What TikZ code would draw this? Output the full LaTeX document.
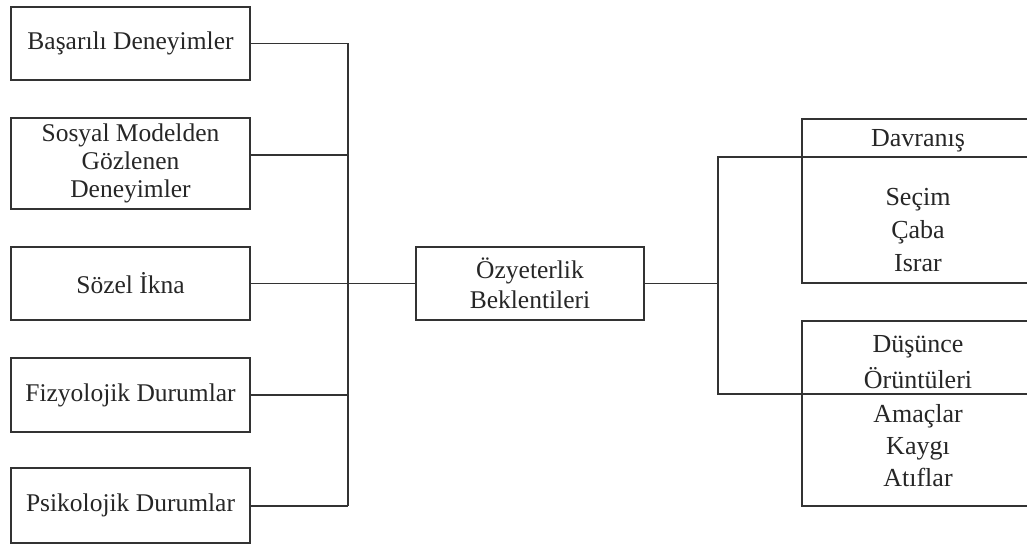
\documentclass[tikz,border=0pt]{standalone}
\usepackage{fontspec}
\setmainfont{Liberation Serif}
\begin{document}
\begin{tikzpicture}[x=1pt,y=-1pt,
  box/.style={draw=black!80, line width=1.7pt, rectangle, inner sep=0pt, align=center,
    text=black!85, font=\fontsize{25.5}{28}\selectfont},
  lbl/.style={anchor=base, inner sep=0pt, text=black!85, font=\fontsize{26}{30}\selectfont},
  conn/.style={draw=black!80, line width=1.6pt}]
\useasboundingbox (0,0) rectangle (1027,548);
\clip (0,0) rectangle (1027,548);
% left boxes
\node[box, minimum width=239pt, minimum height=73pt] (b1) at (130.5,43.5) {Başarılı Deneyimler};
\node[box, minimum width=239pt, minimum height=91pt] (b2) at (130.5,163.5) {Sosyal Modelden\\Gözlenen\\Deneyimler};
\node[box, minimum width=239pt, minimum height=73pt] (b3) at (130.5,283.5) {Sözel İkna};
\node[box, minimum width=239pt, minimum height=74pt] (b4) at (130.5,395) {Fizyolojik Durumlar};
\node[box, minimum width=239pt, minimum height=75pt] (b5) at (130.5,505.5) {Psikolojik Durumlar};
% centre box
\node[box, minimum width=228pt, minimum height=73pt, font=\fontsize{25.5}{30}\selectfont] (oz) at (530,283.5) {Özyeterlik\\Beklentileri};
% right boxes
\node[box, minimum width=232pt, minimum height=164pt] (davr) at (918,201) {};
\node[box, minimum width=232pt, minimum height=185pt] (dus) at (918,413.5) {};
\node[lbl] (t1) at (918,147) {Davranış};
\node[lbl] (t2) at (918,205) {Seçim};
\node[lbl] (t3) at (918,238) {Çaba};
\node[lbl] (t4) at (918,271) {Israr};
\node[lbl] (t5) at (918,352) {Düşünce};
\node[lbl] (t6) at (918,388) {Örüntüleri};
\node[lbl] (t7) at (918,422) {Amaçlar};
\node[lbl] (t8) at (918,454) {Kaygı};
\node[lbl] (t9) at (918,486) {Atıflar};
% left connectors
\coordinate (lt) at (348,43.5);
\coordinate (l2) at (348,155);
\coordinate (lb) at (348,506);
\draw[conn] (b1.east) -- (lt) -- (lb);
\draw[conn] (b2.east |- l2) -- (l2);
\draw[conn] (b3.east) -- (oz.west);
\draw[conn] (b4.east) -- (b4.east -| lt);
\draw[conn] (b5.east |- lb) -- (lb);
% right connectors
\coordinate (rj) at (718,283.5);
\coordinate (rt) at (718,157);
\coordinate (rb) at (718,394);
\draw[conn] (oz.east) -- (rj);
\draw[conn] (rt -| davr.east) -- (rt) -- (rb) -- (rb -| dus.east);
\end{tikzpicture}
\end{document}
